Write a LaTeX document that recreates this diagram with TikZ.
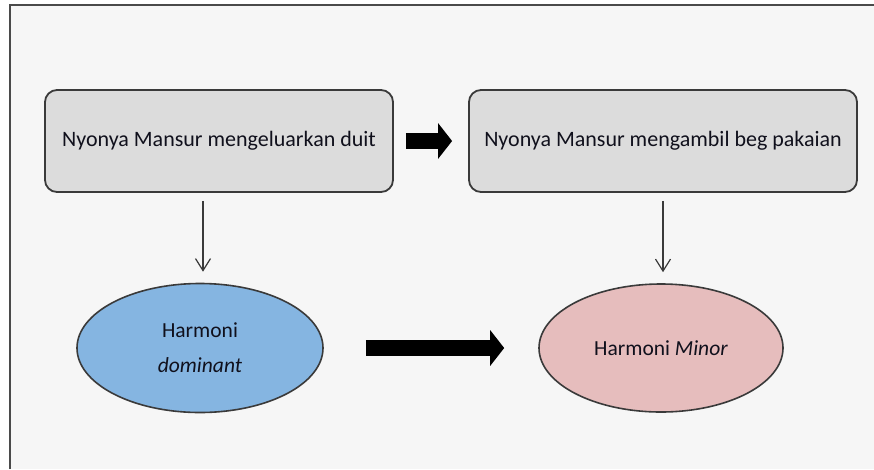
\documentclass[tikz,border=0pt]{standalone}
\usepackage{fontspec}
\setmainfont{Carlito}
\usetikzlibrary{arrows.meta,shapes.geometric}
\definecolor{bgc}{HTML}{F6F6F6}
\definecolor{boxfill}{HTML}{DCDCDC}
\definecolor{edgec}{HTML}{3A3A3A}
\definecolor{bluefill}{HTML}{85B5E1}
\definecolor{pinkfill}{HTML}{E6BDBD}
\definecolor{framec}{HTML}{4A4A4A}
\definecolor{txt}{HTML}{10101C}
\tikzset{
  eventbox/.style={draw=edgec, line width=1.8pt, fill=boxfill, rounded corners=12pt,
    minimum width=348pt, minimum height=102pt, inner sep=0pt, text=txt,
    font=\fontsize{22pt}{26pt}\selectfont},
  harmony/.style={draw=edgec, line width=1.6pt, ellipse, minimum width=246pt, minimum height=129pt,
    inner sep=0pt, text=txt, align=center, font=\fontsize{21.5pt}{35pt}\selectfont},
  thinarrow/.style={draw=edgec, line width=1.2pt, -{Straight Barb[length=12pt,width=15pt]}},
  blockarrow/.style={draw=black, line width=16pt, -{Triangle[length=14pt,width=35pt]}}
}
\begin{document}
\begin{tikzpicture}[x=1pt,y=-1pt]
\useasboundingbox (0,0) rectangle (874,469);
\fill[white] (0,0) rectangle (874,469);
\fill[bgc] (10,5) rectangle (874,469);
\draw[framec, line width=2.5pt] (10,469) -- (10,5) -- (874,5);

\node[eventbox] (b1) at (219,141) {Nyonya Mansur mengeluarkan duit};
\node[eventbox, minimum width=388pt] (b2) at (663,141) {Nyonya Mansur mengambil beg pakaian};

\node[harmony, fill=bluefill] (e1) at (200,348) {Harmoni\\\textit{dominant}};
\node[harmony, fill=pinkfill, minimum width=244pt, minimum height=128pt] (e2) at (661,348) {Harmoni \textit{Minor}};

\draw[blockarrow] ([xshift=12pt]b1.east) -- ([xshift=-16pt]b2.west);
\draw[blockarrow] ([xshift=42pt]e1.east) -- ([xshift=-34pt]e2.west);

\draw[thinarrow] ([yshift=-8pt]b1.south -| 203,0) -- ([yshift=11pt]e1.north -| 203,0);
\draw[thinarrow] ([yshift=-8pt]b2.south -| 663,0) -- ([yshift=11pt]e2.north -| 663,0);
\end{tikzpicture}
\end{document}
